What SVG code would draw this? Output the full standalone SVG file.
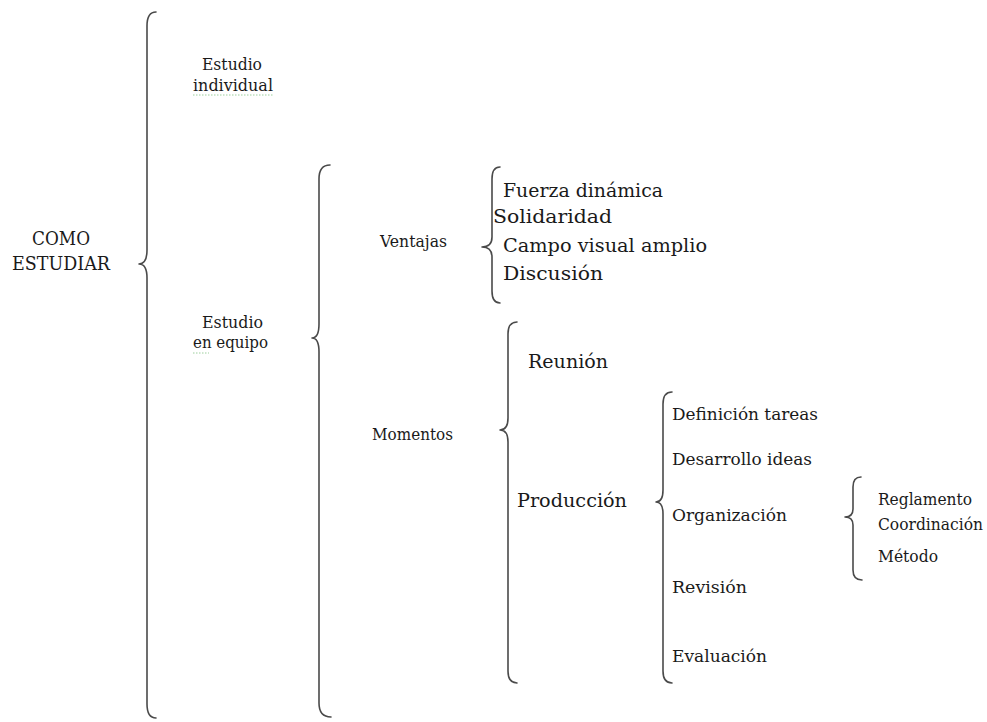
<svg xmlns="http://www.w3.org/2000/svg" width="987" height="722" viewBox="0 0 987 722">
<style>
.s{font-size:16px}
.m{font-size:18px}
.b{fill:none;stroke:#4a4a4a;stroke-width:1.6;stroke-linecap:round;stroke-linejoin:round}
.sq{fill:none;stroke:#9ccf9c;stroke-width:1;stroke-dasharray:1.5 1.5}
</style>
<rect width="987" height="722" fill="#ffffff"/>
<g id="connectors">
<path class="b" d="M156,12 Q147,12 147,26 L147,250 Q147,264 139,264 Q147,264 147,278 L147,704 Q147,718 156,718"/>
<path class="b" d="M330,165 Q319,165 319,179 L319,324 Q319,338 312,338 Q319,338 319,352 L319,703 Q319,717 331,717"/>
<path class="b" d="M500,167 Q492,167 492,179 L492,237 Q492,247 482,247 Q492,247 492,257 L492,291 Q492,303 500,303"/>
<path class="b" d="M517,322 Q508,322 508,334 L508,418 Q508,430 500,430 Q508,430 508,442 L508,671 Q508,683 517,683"/>
<path class="b" d="M672,392 Q663,392 663,404 L663,490 Q663,502 656,502 Q663,502 663,514 L663,671 Q663,683 672,683"/>
<path class="b" d="M861,477 Q853,477 853,487 L853,509 Q853,517 845,517 Q853,517 853,525 L853,570 Q853,580 862,580"/>
</g>
<g font-family="DejaVu Serif, Liberation Serif, serif" fill="#1a1a1a">
<g id="como-estudiar">
<text class="m" x="61" y="245" text-anchor="middle" textLength="58" lengthAdjust="spacingAndGlyphs">COMO</text>
<text class="m" x="61" y="270" text-anchor="middle" textLength="98" lengthAdjust="spacingAndGlyphs">ESTUDIAR</text>
</g>
<g id="estudio-individual">
<text class="s" x="202" y="70" textLength="60" lengthAdjust="spacingAndGlyphs">Estudio</text>
<text class="s" x="193" y="91" textLength="80" lengthAdjust="spacingAndGlyphs">individual</text>
<path class="sq" d="M193,95 L273,95"/>
</g>
<g id="estudio-equipo">
<text class="s" x="202" y="328" textLength="61" lengthAdjust="spacingAndGlyphs">Estudio</text>
<text class="s" x="193" y="348" textLength="75" lengthAdjust="spacingAndGlyphs">en equipo</text>
<path class="sq" d="M193,353 L209,353"/>
</g>
<g id="ventajas">
<text class="s" x="380" y="247" textLength="67" lengthAdjust="spacingAndGlyphs">Ventajas</text>
</g>
<g id="ventajas-items">
<text class="m" x="503" y="197" textLength="160" lengthAdjust="spacingAndGlyphs">Fuerza dinámica</text>
<text class="m" x="493" y="223" textLength="119" lengthAdjust="spacingAndGlyphs">Solidaridad</text>
<text class="m" x="503" y="252" textLength="204" lengthAdjust="spacingAndGlyphs">Campo visual amplio</text>
<text class="m" x="503" y="280" textLength="100" lengthAdjust="spacingAndGlyphs">Discusión</text>
</g>
<g id="momentos">
<text class="s" x="372" y="440" textLength="81" lengthAdjust="spacingAndGlyphs">Momentos</text>
</g>
<g id="reunion">
<text class="m" x="528" y="368" textLength="80" lengthAdjust="spacingAndGlyphs">Reunión</text>
</g>
<g id="produccion">
<text class="m" x="517" y="507" textLength="110" lengthAdjust="spacingAndGlyphs">Producción</text>
</g>
<g id="produccion-items">
<text class="s" x="672" y="420" textLength="146" lengthAdjust="spacingAndGlyphs">Definición tareas</text>
<text class="s" x="672" y="465" textLength="140" lengthAdjust="spacingAndGlyphs">Desarrollo ideas</text>
<text class="s" x="672" y="521" textLength="115" lengthAdjust="spacingAndGlyphs">Organización</text>
<text class="s" x="672" y="593" textLength="75" lengthAdjust="spacingAndGlyphs">Revisión</text>
<text class="s" x="672" y="662" textLength="95" lengthAdjust="spacingAndGlyphs">Evaluación</text>
</g>
<g id="organizacion-items">
<text class="s" x="878" y="505" textLength="94" lengthAdjust="spacingAndGlyphs">Reglamento</text>
<text class="s" x="878" y="530" textLength="105" lengthAdjust="spacingAndGlyphs">Coordinación</text>
<text class="s" x="878" y="562" textLength="60" lengthAdjust="spacingAndGlyphs">Método</text>
</g>
</g>
</svg>
